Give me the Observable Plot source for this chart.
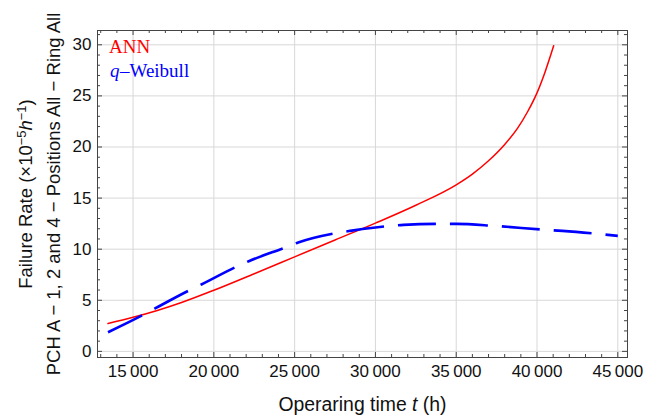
<!DOCTYPE html>
<html><head><meta charset="utf-8">
<script src="https://cdn.jsdelivr.net/npm/d3@7"></script>
<script src="https://cdn.jsdelivr.net/npm/@observablehq/plot@0.6"></script>
<style>
html,body{margin:0;padding:0;background:#fff;}
</style>
</head><body><div id="chart"></div>
<script>
// ---- data ----
const annTime = [13450, 15000, 16500, 18000, 20000, 22500, 25000, 27500, 30000, 32500, 35000, 36000, 37000, 38000, 38800, 39400, 40000, 40500, 41030];
const annRate = [2.73, 3.33, 4.0, 4.78, 5.98, 7.6, 9.25, 10.9, 12.55, 14.3, 16.3, 17.35, 18.65, 20.25, 21.85, 23.4, 25.3, 27.35, 29.9];

const qwTime = [13450, 15600, 16360, 18400, 19260, 21360, 22200, 24410, 25220, 27540, 28430, 30000, 31740, 34060, 35000, 37370, 40570, 41570, 45000];
const qwRate = [1.87, 3.55, 4.2, 5.91, 6.57, 8.26, 8.85, 10.16, 10.65, 11.56, 11.79, 12.12, 12.38, 12.48, 12.48, 12.28, 11.89, 11.79, 11.3];

const xMajorTicks = [15000, 20000, 25000, 30000, 35000, 40000, 45000];
const xMinorTicks = [13000, 14000, 16000, 17000, 18000, 19000, 21000, 22000, 23000, 24000, 26000, 27000, 28000, 29000, 31000, 32000, 33000, 34000, 36000, 37000, 38000, 39000, 41000, 42000, 43000, 44000];
const yMajorTicks = [0, 5, 10, 15, 20, 25, 30];
const yMinorTicks = [1, 2, 3, 4, 6, 7, 8, 9, 11, 12, 13, 14, 16, 17, 18, 19, 21, 22, 23, 24, 26, 27, 28, 29, 31];

const seriesNames = ["ANN", "q\u2212Weibull"];
const xLabelText = "Operaring time t (h)";
const yLabelLines = ["Failure Rate (\u00d710\u22125h\u22121)", "PCH A \u2212 1, 2 and 4 \u2212 Positions All \u2212 Ring All"];

// ---- layout ----
const W = 659, H = 419;
const mL = 97, mR = 32, mT = 30, mB = 62;
const frameW = W - mL - mR, frameH = H - mT - mB;
const majorLen = 5, minorLen = 3;
const tickColor = "#444";
const sans = "'Liberation Sans', Arial, sans-serif";
const serif = "'Liberation Serif', 'Times New Roman', serif";

const ann = annTime.map((t, i) => ({t, r: annRate[i]}));
const qw = qwTime.map((t, i) => ({t, r: qwRate[i]}));
const fmt = d => d3.format(",")(d).replace(",", "\u2009");

const legendFont = 19;
const chart = Plot.plot({
  width: W, height: H,
  marginLeft: mL, marginRight: mR, marginTop: mT, marginBottom: mB,
  style: {fontFamily: sans, fontSize: "17px", color: "#111", background: "#fff"},
  x: {domain: [12800, 45600]},
  y: {domain: [-0.6, 31.4]},
  marks: [
    Plot.gridX(xMajorTicks, {stroke: "#d8d8d8", strokeOpacity: 1, strokeWidth: 1}),
    Plot.gridY(yMajorTicks, {stroke: "#d8d8d8", strokeOpacity: 1, strokeWidth: 1}),
    // inward frame ticks
    Plot.tickX(xMajorTicks, {x: d => d, insetTop: frameH - majorLen, stroke: tickColor}),
    Plot.tickX(xMinorTicks, {x: d => d, insetTop: frameH - minorLen, stroke: tickColor}),
    Plot.tickX(xMajorTicks, {x: d => d, insetBottom: frameH - majorLen, stroke: tickColor}),
    Plot.tickX(xMinorTicks, {x: d => d, insetBottom: frameH - minorLen, stroke: tickColor}),
    Plot.tickY(yMajorTicks, {y: d => d, insetRight: frameW - majorLen, stroke: tickColor}),
    Plot.tickY(yMinorTicks, {y: d => d, insetRight: frameW - minorLen, stroke: tickColor}),
    Plot.tickY(yMajorTicks, {y: d => d, insetLeft: frameW - majorLen, stroke: tickColor}),
    Plot.tickY(yMinorTicks, {y: d => d, insetLeft: frameW - minorLen, stroke: tickColor}),
    Plot.axisX({ticks: xMajorTicks, tickSize: 0, tickPadding: 7, tickFormat: fmt, label: null}),
    Plot.axisY({ticks: yMajorTicks, tickSize: 0, tickPadding: 6, label: null}),
    Plot.line(ann, {x: "t", y: "r", curve: "monotone-x", stroke: "#ff0000", strokeWidth: 1.5}),
    Plot.line(qw, {x: "t", y: "r", curve: "monotone-x", stroke: "#0000ff", strokeWidth: 2.6, strokeDasharray: "38,14", strokeLinecap: "butt"}),
    Plot.frame({stroke: tickColor, strokeWidth: 1}),
    // legend
    Plot.text([seriesNames[0]], {frameAnchor: "top-left", text: d => d, dx: 11.5, dy: 22.5, lineAnchor: "bottom", textAnchor: "start", fill: "#ff0000", fontFamily: serif, fontSize: legendFont}),
    Plot.text([seriesNames[1]], {frameAnchor: "top-left", text: d => d, dx: 12.5, dy: 46, lineAnchor: "bottom", textAnchor: "start", fill: "#0000ff", fontFamily: serif, fontSize: legendFont}),
    // axis labels
    Plot.text([xLabelText], {frameAnchor: "bottom", text: d => d, dy: 53, lineAnchor: "bottom", textAnchor: "middle", fill: "#111", fontFamily: sans, fontSize: 19.4}),
    Plot.text([yLabelLines[0]], {frameAnchor: "left", text: d => d, dx: -71.5, rotate: -90, lineAnchor: "middle", textAnchor: "middle", fill: "#111", fontFamily: sans, fontSize: 18.5}),
    Plot.text([yLabelLines[1]], {frameAnchor: "left", text: d => d, dx: -43.7, rotate: -90, lineAnchor: "middle", textAnchor: "middle", fill: "#111", fontFamily: sans, fontSize: 18.5})
  ]
});

// rich-text styling for labels (italic variables, superscripts)
function richen(textContent, parts) {
  chart.querySelectorAll("text").forEach(el => {
    if (el.textContent === textContent) {
      el.textContent = "";
      parts.forEach(p => {
        const ts = document.createElementNS("http://www.w3.org/2000/svg", "tspan");
        ts.textContent = p.t;
        if (p.i) ts.setAttribute("font-style", "italic");
        if (p.sup) { ts.setAttribute("font-size", "70%"); ts.setAttribute("dy", "-0.45em"); }
        if (p.down) ts.setAttribute("dy", p.down);
        if (p.dx) ts.setAttribute("dx", p.dx);
        el.appendChild(ts);
      });
    }
  });
}
richen(xLabelText, [{t: "Operaring time "}, {t: "t", i: true}, {t: " (h)"}]);
richen(yLabelLines[0], [
  {t: "Failure Rate (\u00d710"}, {t: "\u22125", sup: true},
  {t: "h", i: true, down: "0.315em"}, {t: "\u22121", sup: true},
  {t: ")", down: "0.315em"}
]);
richen(seriesNames[1], [{t: "q", i: true}, {t: "\u2013", dx: "0.5"}, {t: "Weibull"}]);

document.getElementById("chart").appendChild(chart);
</script>
</body></html>
